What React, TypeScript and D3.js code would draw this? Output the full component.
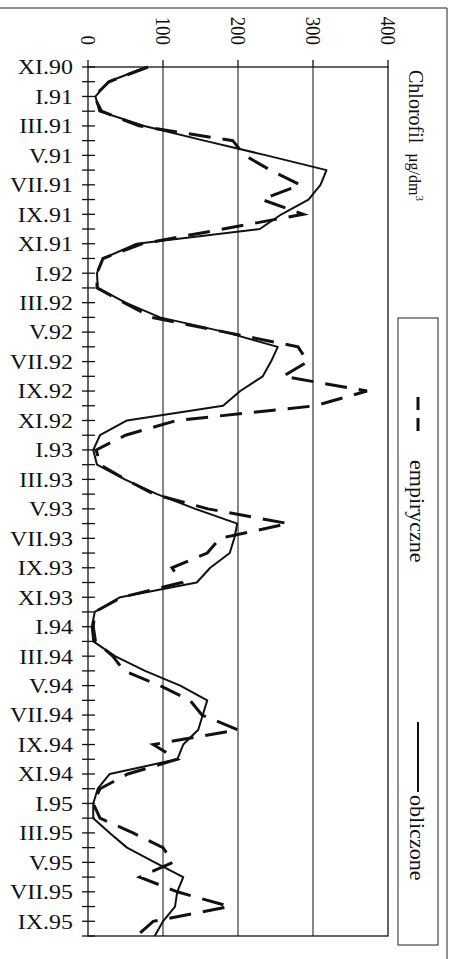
import { useEffect, useRef } from 'react';
import * as d3 from 'd3';

// months on the category axis (XI.1990 .. X.1995)
const months = [
  'XI.90', 'XII.90',
  'I.91', 'II.91', 'III.91', 'IV.91', 'V.91', 'VI.91', 'VII.91', 'VIII.91', 'IX.91', 'X.91', 'XI.91', 'XII.91',
  'I.92', 'II.92', 'III.92', 'IV.92', 'V.92', 'VI.92', 'VII.92', 'VIII.92', 'IX.92', 'X.92', 'XI.92', 'XII.92',
  'I.93', 'II.93', 'III.93', 'IV.93', 'V.93', 'VI.93', 'VII.93', 'VIII.93', 'IX.93', 'X.93', 'XI.93', 'XII.93',
  'I.94', 'II.94', 'III.94', 'IV.94', 'V.94', 'VI.94', 'VII.94', 'VIII.94', 'IX.94', 'X.94', 'XI.94', 'XII.94',
  'I.95', 'II.95', 'III.95', 'IV.95', 'V.95', 'VI.95', 'VII.95', 'VIII.95', 'IX.95', 'X.95',
];

// empirical values (dashed)
const empiryczne = [
  80, 28, 8, 18, 68, 193, 209, 243, 283, 232, 287, 180,
  72, 20, 12, 12, 48, 85, 183, 280, 293, 260, 372, 303,
  118, 50, 11, 16, 50, 88, 160, 267, 176, 159, 112, 125,
  45, 9, 7, 10, 33, 48, 96, 136, 152, 200, 87, 119,
  53, 16, 7, 16, 60, 100, 113, 69, 119, 189, 87, 65,
];

// computed values (solid)
const obliczone = [
  78, 27, 10, 15, 75, 155, 238, 318, 310, 294, 258, 229,
  65, 20, 12, 13, 50, 96, 183, 253, 244, 233, 203, 180,
  52, 16, 7, 12, 49, 92, 143, 199, 195, 189, 163, 145,
  43, 9, 5, 7, 36, 76, 123, 159, 153, 147, 127, 119,
  29, 13, 7, 7, 29, 52, 89, 127, 119, 116, 100, 89,
];

const valueTicks = [0, 100, 200, 300, 400];

const FONT = '"Liberation Serif", "DejaVu Serif", serif';

const App = () => {
  const svgRef = useRef(null);

  useEffect(() => {
    const W = 456, H = 959;
    const svg = d3.select(svgRef.current).attr('width', W).attr('height', H);
    svg.selectAll('*').remove();

    const x = d3.scaleLinear().domain([0, 400]).range([88, 388]);
    const y = d3.scalePoint().domain(months).range([67, 936]);
    const [top, bottom] = y.range();

    // outer chart border
    svg.append('path')
      .attr('d', `M0,8H447V${H}`)
      .attr('fill', 'none').attr('stroke', '#222').attr('stroke-width', 1);

    // grid lines
    svg.selectAll('.grid')
      .data(valueTicks.slice(1, -1))
      .join('line')
      .attr('x1', d => x(d)).attr('x2', d => x(d))
      .attr('y1', top).attr('y2', bottom)
      .attr('stroke', '#111').attr('stroke-width', 1);

    // plot frame
    svg.append('rect')
      .attr('x', x(0)).attr('y', top)
      .attr('width', x(400) - x(0)).attr('height', bottom - top)
      .attr('fill', 'none').attr('stroke', '#111').attr('stroke-width', 1.3);

    // value axis ticks + labels (rotated)
    svg.selectAll('.vtick')
      .data(valueTicks)
      .join('line')
      .attr('x1', d => x(d)).attr('x2', d => x(d))
      .attr('y1', top - 7).attr('y2', top)
      .attr('stroke', '#111').attr('stroke-width', 1.3);

    svg.selectAll('.vlabel')
      .data(valueTicks)
      .join('text')
      .attr('transform', d => `translate(${x(d)},45) rotate(90) scale(1.05,1.15)`)
      .attr('text-anchor', 'end')
      .attr('dy', '0.35em')
      .attr('font-family', FONT)
      .attr('font-size', 18)
      .attr('fill', '#111')
      .text(d => d);

    // category axis: a tick every month, label every second month
    svg.selectAll('.ctick')
      .data(months)
      .join('line')
      .attr('x1', x(0) - 6).attr('x2', x(0) + 7)
      .attr('y1', d => y(d)).attr('y2', d => y(d))
      .attr('stroke', '#111').attr('stroke-width', 1.3);

    svg.selectAll('.clabel')
      .data(months.filter((_, i) => i % 2 === 0))
      .join('text')
      .attr('transform', d => `translate(73,${y(d)}) scale(1.14,1)`)
      .attr('text-anchor', 'end')
      .attr('dy', '0.35em')
      .attr('font-family', FONT)
      .attr('font-size', 21)
      .attr('fill', '#111')
      .text(d => d);

    // series
    const line = d3.line()
      .x(d => x(d[1]))
      .y(d => y(d[0]));

    svg.append('path')
      .datum(months.map((m, i) => [m, obliczone[i]]))
      .attr('d', line)
      .attr('fill', 'none').attr('stroke', '#111').attr('stroke-width', 2)
      .attr('stroke-linejoin', 'round');

    svg.append('path')
      .datum(months.map((m, i) => [m, empiryczne[i]]))
      .attr('d', line)
      .attr('fill', 'none').attr('stroke', '#111').attr('stroke-width', 3)
      .attr('stroke-dasharray', '22,12');

    // axis title
    const title = svg.append('text')
      .attr('transform', 'translate(416,70) rotate(90)')
      .attr('dy', '0.35em')
      .attr('font-family', FONT)
      .attr('font-size', 20)
      .attr('fill', '#111');
    title.append('tspan').text('Chlorofil');
    title.append('tspan').attr('dx', 10).attr('font-size', 16).text('µg/dm');
    title.append('tspan').attr('font-size', 11).attr('dy', '-0.6em').text('3');

    // legend
    const lg = svg.append('g');
    lg.append('rect')
      .attr('x', 398).attr('y', 318)
      .attr('width', 40).attr('height', 627)
      .attr('fill', 'none').attr('stroke', '#222').attr('stroke-width', 1);

    lg.append('line')
      .attr('x1', 418).attr('x2', 418)
      .attr('y1', 397).attr('y2', 431)
      .attr('stroke', '#111').attr('stroke-width', 3)
      .attr('stroke-dasharray', '13,8');
    lg.append('text')
      .attr('transform', 'translate(418,460) rotate(90)')
      .attr('dy', '0.35em')
      .attr('font-family', FONT).attr('font-size', 22).attr('fill', '#111')
      .text('empiryczne');

    lg.append('line')
      .attr('x1', 418).attr('x2', 418)
      .attr('y1', 722).attr('y2', 792)
      .attr('stroke', '#111').attr('stroke-width', 2);
    lg.append('text')
      .attr('transform', 'translate(418,795) rotate(90)')
      .attr('dy', '0.35em')
      .attr('font-family', FONT).attr('font-size', 22).attr('fill', '#111')
      .text('obliczone');
  }, []);

  return (
    <div style={{ position: 'absolute', left: 0, top: 0, background: '#fff' }}>
      <svg ref={svgRef} style={{ display: 'block' }} />
    </div>
  );
};

export default App;
